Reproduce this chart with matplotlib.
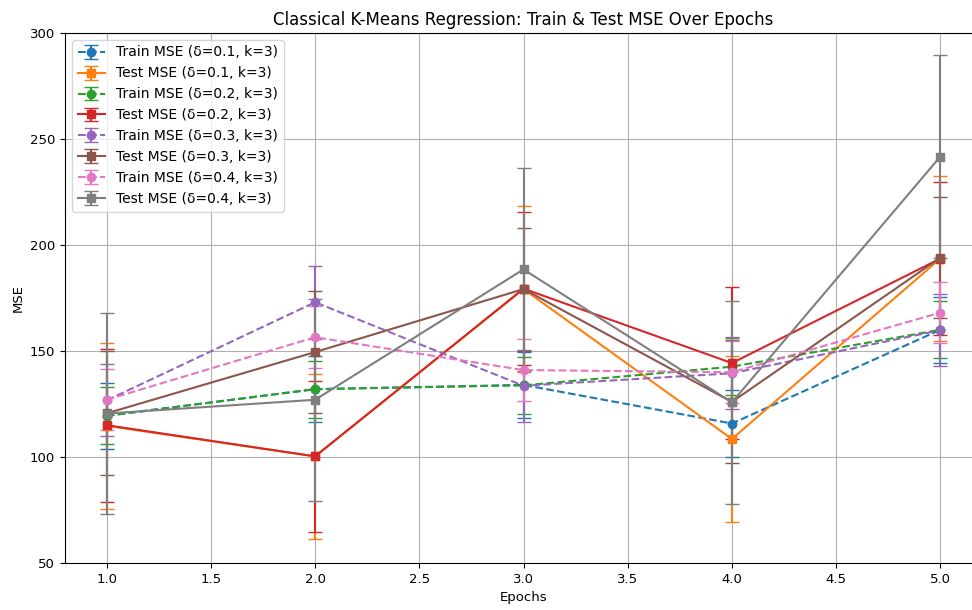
import matplotlib
matplotlib.use("Agg")
import matplotlib.pyplot as plt
import numpy as np

epochs = [1, 2, 3, 4, 5]
deltas = [0.1, 0.2, 0.3, 0.4]
k = 3

# mean MSE per epoch
train_01 = [119.5, 132.0, 134.0, 115.8, 160.0]
test_01 = [114.7, 100.3, 179.2, 108.5, 193.6]
train_02 = [119.4, 132.0, 133.8, 142.6, 160.0]
test_02 = [115.0, 100.3, 179.4, 144.3, 193.6]
train_03 = [126.7, 173.0, 133.6, 139.5, 159.8]
test_03 = [120.6, 149.5, 179.2, 126.0, 194.0]
train_04 = [127.0, 156.5, 141.0, 140.0, 168.1]
test_04 = [120.5, 127.0, 188.5, 125.8, 241.7]

# std across runs
train_01_std = [15.5, 15.5, 15.5, 15.7, 15.5]
test_01_std = [39.0, 39.0, 39.0, 39.0, 39.0]
train_02_std = [13.5, 13.5, 13.6, 13.5, 13.5]
test_02_std = [36.0, 35.7, 36.0, 36.0, 36.0]
train_03_std = [17.0, 17.2, 17.0, 17.0, 17.0]
test_03_std = [29.2, 28.9, 29.0, 29.0, 28.5]
train_04_std = [14.3, 14.5, 14.5, 14.5, 14.5]
test_04_std = [47.6, 47.7, 47.8, 47.8, 47.8]

train_means = [train_01, train_02, train_03, train_04]
test_means = [test_01, test_02, test_03, test_04]
train_stds = [train_01_std, train_02_std, train_03_std, train_04_std]
test_stds = [test_01_std, test_02_std, test_03_std, test_04_std]

fig = plt.figure(figsize=(9.72, 6.10), dpi=100)
ax = fig.add_axes([65 / 972, 47 / 610, 917 / 972, 530 / 610])

for d, tr, te, trs, tes in zip(deltas, train_means, test_means, train_stds, test_stds):
    ax.errorbar(epochs, tr, yerr=trs, fmt="o--", capsize=5,
                label=f"Train MSE (δ={d}, k={k})")
    ax.errorbar(epochs, te, yerr=tes, fmt="s-", capsize=5,
                label=f"Test MSE (δ={d}, k={k})")

ax.set_xlim(0.8, 5.2)
ax.set_ylim(50, 300)
ax.tick_params(labelsize=9.5)
ax.set_title("Classical K-Means Regression: Train & Test MSE Over Epochs")
ax.set_xlabel("Epochs", fontsize=9.5)
ax.set_ylabel("MSE", fontsize=9.5)
ax.legend(loc="upper left")
ax.grid(True)

fig.savefig("out.png", dpi=100)
